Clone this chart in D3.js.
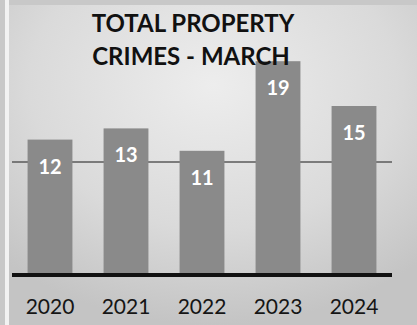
<!DOCTYPE html>
<html>
<head>
<meta charset="utf-8">
<script src="https://cdn.jsdelivr.net/npm/d3@7"></script>
<style>
  body { margin: 0; background: #fff; }
  svg { display: block; }
</style>
</head>
<body>
<div id="chart"></div>
<script>
// data
const years = ["2020", "2021", "2022", "2023", "2024"];
const crimes = [12, 13, 11, 19, 15];
const gridValues = [10];
const titleLines = ["TOTAL PROPERTY", "CRIMES - MARCH"];

const width = 417;
const height = 325;

const svg = d3.select("#chart")
    .append("svg")
    .attr("width", width)
    .attr("height", height);

// scanned grey page: lighter in the top middle, darker to the edges
const defs = svg.append("defs");
const grad = defs.append("radialGradient")
    .attr("id", "bg")
    .attr("cx", "50%").attr("cy", "25%").attr("r", "75%");
grad.append("stop").attr("offset", "0%").attr("stop-color", "#ededed");
grad.append("stop").attr("offset", "60%").attr("stop-color", "#dadada");
grad.append("stop").attr("offset", "100%").attr("stop-color", "#c4c4c4");

svg.append("rect")
    .attr("width", width).attr("height", height)
    .attr("fill", "#c8c8c8");
svg.append("rect")
    .attr("x", 5).attr("y", 0)
    .attr("width", 4).attr("height", height)
    .attr("fill", "#f2f2f2");
svg.append("rect")
    .attr("x", 9).attr("y", 5)
    .attr("width", width - 9).attr("height", height - 5)
    .attr("fill", "url(#bg)");

const x = d3.scaleBand()
    .domain(years)
    .range([12, 392])
    .paddingInner(0.41)
    .paddingOuter(0.205);

const y = d3.scaleLinear()
    .domain([0, 20])
    .range([274, 50]);

// gridline
svg.selectAll(".grid")
    .data(gridValues)
    .enter()
    .append("line")
    .attr("class", "grid")
    .attr("x1", 12).attr("x2", 392)
    .attr("y1", (d) => y(d)).attr("y2", (d) => y(d))
    .attr("stroke", "#5a5a5a")
    .attr("stroke-width", 1.3);

const data = years.map((yr, i) => ({ year: yr, value: crimes[i] }));

svg.selectAll(".bar")
    .data(data)
    .enter()
    .append("rect")
    .attr("class", "bar")
    .attr("x", (d) => x(d.year))
    .attr("y", (d) => y(d.value))
    .attr("width", x.bandwidth())
    .attr("height", (d) => y(0) - y(d.value))
    .attr("fill", "#8a8a8a");

svg.selectAll(".val")
    .data(data)
    .enter()
    .append("text")
    .attr("class", "val")
    .attr("x", (d) => x(d.year) + x.bandwidth() / 2)
    .attr("y", (d) => y(d.value) + 34)
    .attr("text-anchor", "middle")
    .style("font-family", "Lato, sans-serif")
    .style("font-size", "20px")
    .style("font-weight", "bold")
    .style("fill", "#fff")
    .text((d) => d.value);

// axis baseline
svg.append("line")
    .attr("x1", 12).attr("x2", 392)
    .attr("y1", y(0) + 1).attr("y2", y(0) + 1)
    .attr("stroke", "#111")
    .attr("stroke-width", 4);

const xAxis = svg.append("g")
    .attr("transform", `translate(0,${y(0) + 3})`)
    .call(d3.axisBottom(x).tickSize(0).tickPadding(22));
xAxis.select(".domain").remove();
xAxis.selectAll("text")
    .style("font-family", "Lato, sans-serif")
    .style("font-size", "21px")
    .style("fill", "#151515");

svg.selectAll(".title")
    .data(titleLines)
    .enter()
    .append("text")
    .attr("class", "title")
    .attr("x", (d, i) => (i === 0 ? 193 : 191))
    .attr("y", (d, i) => 32 + i * 33)
    .attr("text-anchor", "middle")
    .style("font-family", "Lato, sans-serif")
    .style("font-size", "24px")
    .style("font-weight", "bold")
    .style("fill", "#111")
    .text((d) => d);
</script>
</body>
</html>
